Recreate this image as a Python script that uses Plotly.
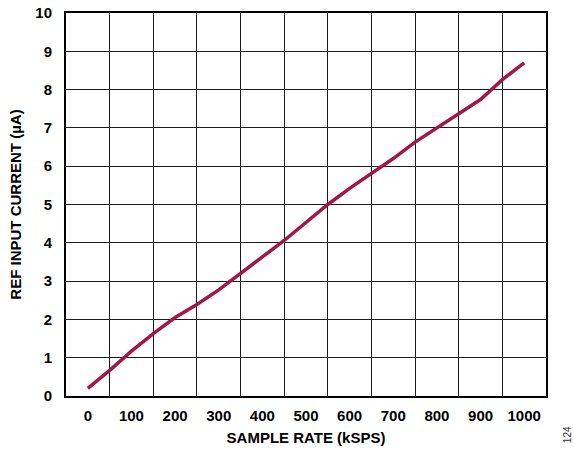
import plotly.graph_objects as go

sample_rate_ksps = [0, 50, 100, 150, 200, 250, 300, 350, 400, 450, 500,
                    550, 600, 650, 700, 750, 800, 850, 900, 950, 1000]
ref_current_ua = [0.20, 0.67, 1.17, 1.63, 2.05, 2.39, 2.77, 3.21, 3.63, 4.06, 4.53,
                  5.00, 5.42, 5.82, 6.20, 6.63, 7.00, 7.37, 7.74, 8.26, 8.70]
x_tick_values = [0, 100, 200, 300, 400, 500, 600, 700, 800, 900, 1000]
x_tick_labels = [str(v) for v in x_tick_values]
y_tick_values = list(range(0, 11))

FONT = "Liberation Sans, Arial, sans-serif"
LINE_COLOR = "#A3164A"
GRID = "#1a1a1a"

fig = go.Figure()
fig.add_trace(go.Scatter(
    x=sample_rate_ksps, y=ref_current_ua, mode="lines",
    line=dict(color=LINE_COLOR, width=3.5), showlegend=False,
))

fig.update_layout(
    width=574, height=450,
    margin=dict(l=66, r=28, t=13, b=54, autoexpand=False),
    paper_bgcolor="white", plot_bgcolor="white",
    font=dict(family=FONT, color="black"),
    xaxis=dict(
        range=[-50, 1050], automargin=False,
        tickmode="array", tickvals=x_tick_values, ticktext=x_tick_labels,
        showgrid=False, zeroline=False,
        ticks="", ticklabelstandoff=5,
        tickfont=dict(family=FONT, size=15, color="black", weight="bold"),
        minor=dict(tick0=50, dtick=100, showgrid=True, gridcolor=GRID, gridwidth=1.3),
        showline=True, linecolor="black", linewidth=2, mirror=True,
        title=dict(text="<b>SAMPLE RATE (kSPS)</b>", standoff=9,
                   font=dict(family=FONT, size=15, color="black")),
    ),
    yaxis=dict(
        range=[0, 10], tickmode="array", tickvals=y_tick_values, automargin=False,
        showgrid=True, gridcolor=GRID, gridwidth=1.3, zeroline=False,
        ticks="", ticklabelstandoff=9,
        tickfont=dict(family=FONT, size=15, color="black", weight="bold"),
        showline=True, linecolor="black", linewidth=2, mirror=True,
        title=dict(text="<b>REF INPUT CURRENT (µA)</b>", standoff=10,
                   font=dict(family=FONT, size=15, color="black")),
    ),
    annotations=[dict(
        text="124", xref="paper", yref="paper", x=1.044, y=-0.102,
        showarrow=False, textangle=-90,
        font=dict(family=FONT, size=10, color="#333333"),
        xanchor="center", yanchor="middle",
    )],
)

fig.write_html(
    "out.html",
    config={"displayModeBar": False},
    post_script="document.body.style.margin='0';document.body.style.overflow='hidden';",
)
